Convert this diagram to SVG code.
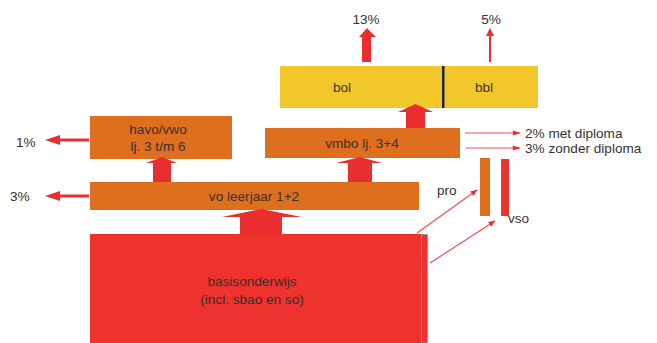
<svg xmlns="http://www.w3.org/2000/svg" width="657" height="343" viewBox="0 0 657 343">
<defs>
<style>
text{font-family:"Liberation Sans",Arial,sans-serif;font-size:13.6px;fill:#3a3030}
.c{text-anchor:middle}
.or{fill:#DD6F1F}
.rd{fill:#EE322D}
.ye{fill:#F2C72A}
.ar{fill:#EA2E2F}
.thin{stroke:#F0504E;stroke-width:1.2;fill:none}
</style>
<marker id="ah" viewBox="0 0 10 10" refX="9" refY="5" markerWidth="7" markerHeight="7" orient="auto" markerUnits="userSpaceOnUse">
<path d="M0,1 L10,5 L0,9 z" fill="#EA2E2F"/>
</marker>
<marker id="ah2" viewBox="0 0 10 10" refX="9" refY="5" markerWidth="12" markerHeight="8" orient="auto" markerUnits="userSpaceOnUse">
<path d="M0,2 L10,5 L0,8 z" fill="#EA2E2F"/>
</marker>
</defs>
<g id="basisonderwijs">
<rect class="rd" x="90" y="234" width="331" height="109"/>
<rect x="421.5" y="234.5" width="6" height="108.5" fill="#EE322D" stroke="#9a9a9a" stroke-width="1"/>
<text class="c" x="252" y="286">basisonderwijs</text>
<text class="c" x="252" y="304">(incl. sbao en so)</text>
</g>
<g id="vo">
<rect class="or" x="90" y="182" width="329" height="28"/>
<text class="c" x="254" y="201">vo leerjaar 1+2</text>
</g>
<g id="havo">
<rect class="or" x="90" y="116" width="142" height="43"/>
<text class="c" x="158" y="134">havo/vwo</text>
<text class="c" x="158" y="151">lj. 3 t/m 6</text>
</g>
<g id="vmbo">
<rect class="or" x="265" y="128" width="195" height="30"/>
<text class="c" x="362" y="148">vmbo lj. 3+4</text>
</g>
<g id="mbo">
<rect class="ye" x="280" y="66" width="258" height="42"/>
<rect x="442" y="66" width="2.5" height="42" fill="#222"/>
<text class="c" x="342" y="92">bol</text>
<text class="c" x="484" y="92">bbl</text>
</g>
<g id="pro">
<rect class="or" x="480" y="158" width="10" height="58"/>
<text x="437" y="195">pro</text>
</g>
<g id="vso">
<rect class="rd" x="501" y="159" width="8" height="57"/>
<text x="508" y="223">vso</text>
</g>
<g id="connectors">
<polygon class="ar" points="362,62 371,62 371,37 376,37 367,28 359,37 362,37"/>
<polygon class="ar" points="489,62 491,62 491,36 494,36 490,28 486,36 489,36"/>
<polygon class="ar" points="406,128 425,128 425,112 433,112 415.5,104 398,112 406,112"/>
<polygon class="ar" points="153,182 171,182 171,163 177,163 162,157 146,163 153,163"/>
<polygon class="ar" points="348,182 372,182 372,163 382,163 360,157 336,163 348,163"/>
<polygon class="ar" points="240,234 282,234 282,217 302,217 261,209 222,217 240,217"/>
<polygon class="ar" points="89,138.5 89,141.5 60,141.5 60,145 45,140 60,135 60,138.5"/>
<polygon class="ar" points="89,194.5 89,197.5 60,197.5 60,201 45,196 60,191 60,194.5"/>
<line class="thin" x1="465" y1="133" x2="520" y2="133" marker-end="url(#ah2)"/>
<line class="thin" x1="466" y1="148" x2="520" y2="148" marker-end="url(#ah2)"/>
<line class="thin" x1="417" y1="233" x2="477" y2="190" marker-end="url(#ah)"/>
<line class="thin" x1="430" y1="263" x2="495" y2="221" marker-end="url(#ah)"/>
</g>
<g id="labels">
<text class="c" x="366" y="24">13%</text>
<text class="c" x="491" y="24">5%</text>
<text x="16" y="147">1%</text>
<text x="10" y="201">3%</text>
<text x="525" y="138">2% met diploma</text>
<text x="525" y="153">3% zonder diploma</text>
</g>
</svg>
